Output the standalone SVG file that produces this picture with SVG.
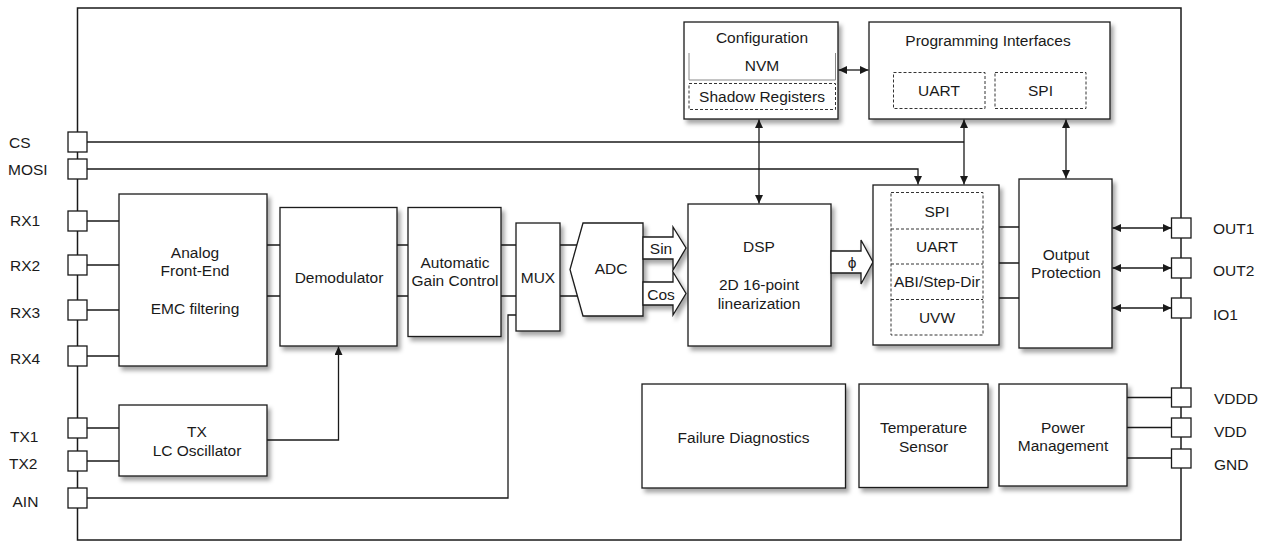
<svg xmlns="http://www.w3.org/2000/svg" width="1266" height="543" viewBox="0 0 1266 543">
<style>
text{font-family:"Liberation Sans",Arial,sans-serif;font-size:15.5px;fill:#1a1a1a;dominant-baseline:central}
.c{text-anchor:middle}
.box{fill:#fff;stroke:#1a1a1a;stroke-width:1.3;filter:url(#sh)}
.pin{fill:#fff;stroke:#1a1a1a;stroke-width:1.3}
.dash{fill:none;stroke:#333;stroke-width:1;stroke-dasharray:3 2}
.ln{fill:none;stroke:#1a1a1a;stroke-width:1.3}
.arr{marker-end:url(#ah)}
.dbl{marker-start:url(#ah);marker-end:url(#ah)}
</style>
<defs>
<filter id="sh" x="-10%" y="-10%" width="130%" height="130%">
<feDropShadow dx="3" dy="4" stdDeviation="2.2" flood-color="#000" flood-opacity="0.35"/>
</filter>
<marker id="ah" markerUnits="userSpaceOnUse" markerWidth="9" markerHeight="8" refX="8.5" refY="4" orient="auto-start-reverse">
<path d="M0,0 L8.5,4 L0,8 Z" fill="#1a1a1a"/>
</marker>
</defs>

<g id="chip">
<rect x="77.5" y="8" width="1103.5" height="532" fill="none" stroke="#1a1a1a" stroke-width="1.5"/>
</g>

<g id="connectors">
<path class="ln" d="M87,142 H964"/>
<path class="ln dbl" d="M964,119.5 V184.5"/>
<path class="ln arr" d="M87,169 H918 V184.5"/>
<path class="ln" d="M87,221 H119 M87,265 H119 M87,310 H119 M87,356 H119"/>
<path class="ln" d="M267,245 H280 M267,296 H280 M397,245 H408 M397,296 H408 M501,245 H516 M501,296 H516"/>
<path class="ln" d="M560,245 H577 M560,296 H577.5"/>
<path class="ln" d="M87,428 H119 M87,461 H119"/>
<path class="ln arr" d="M267,440 H338.5 V346.5"/>
<path class="ln" d="M87,498 H508 V315 H516"/>
<path class="ln dbl" d="M759,119.5 V203.5"/>
<path class="ln dbl" d="M838.5,70 H868.5"/>
<path class="ln dbl" d="M1066,119.5 V178.5"/>
<path class="ln" d="M999,227 H1019 M999,263 H1019 M999,298 H1019"/>
<path class="ln dbl" d="M1112.5,228 H1171.5"/>
<path class="ln dbl" d="M1112.5,268 H1171.5"/>
<path class="ln dbl" d="M1112.5,308 H1171.5"/>
<path class="ln" d="M1127,397.5 H1172 M1127,427.5 H1172 M1127,458 H1172"/>
</g>

<g id="pins-left">
<rect class="pin" x="68" y="132" width="19" height="20"/><text x="9" y="142">CS</text>
<rect class="pin" x="68" y="159" width="19" height="20"/><text x="8" y="169.5">MOSI</text>
<rect class="pin" x="68" y="211" width="19" height="20"/><text x="10" y="220.5">RX1</text>
<rect class="pin" x="68" y="255" width="19" height="20"/><text x="10" y="265">RX2</text>
<rect class="pin" x="68" y="300" width="19" height="20"/><text x="10" y="312">RX3</text>
<rect class="pin" x="68" y="346" width="19" height="20"/><text x="10" y="358">RX4</text>
<rect class="pin" x="68" y="418" width="19" height="20"/><text x="10" y="436">TX1</text>
<rect class="pin" x="68" y="451" width="19" height="20"/><text x="9" y="463">TX2</text>
<rect class="pin" x="68" y="488" width="19" height="20"/><text x="12.5" y="501">AIN</text>
</g>

<g id="pins-right">
<rect class="pin" x="1171.5" y="218" width="19.5" height="20"/><text x="1213" y="228">OUT1</text>
<rect class="pin" x="1171.5" y="258" width="19.5" height="20"/><text x="1213" y="270">OUT2</text>
<rect class="pin" x="1171.5" y="298" width="19.5" height="20"/><text x="1213" y="314">IO1</text>
<rect class="pin" x="1171.5" y="388" width="19.5" height="19"/><text x="1214" y="398">VDDD</text>
<rect class="pin" x="1171.5" y="418" width="19.5" height="19"/><text x="1214" y="431">VDD</text>
<rect class="pin" x="1171.5" y="449" width="19.5" height="19"/><text x="1214" y="464">GND</text>
</g>

<g id="afe">
<rect class="box" x="119" y="194" width="148" height="172"/>
<text class="c" x="195" y="252">Analog</text>
<text class="c" x="195" y="270">Front-End</text>
<text class="c" x="195" y="308">EMC filtering</text>
</g>

<g id="demodulator">
<rect class="box" x="280" y="207.5" width="117" height="138.5"/>
<text class="c" x="339" y="277">Demodulator</text>
</g>

<g id="agc">
<rect class="box" x="408" y="207.5" width="93" height="129"/>
<text class="c" x="455" y="262">Automatic</text>
<text class="c" x="455" y="280">Gain Control</text>
</g>

<g id="mux">
<rect class="box" x="516" y="223" width="44" height="108"/>
<text class="c" x="538" y="277">MUX</text>
</g>

<g id="adc">
<path class="box" d="M583,223 H643 V316 H583 L570,269.5 Z"/>
<text class="c" x="611" y="268">ADC</text>
</g>

<g id="sin-arrow">
<path class="box" d="M643,237 H673 V227 L686,248 L673,270 V259 H643 Z"/>
<text class="c" x="661" y="248">Sin</text>
</g>

<g id="cos-arrow">
<path class="box" d="M643,282 H673 V272 L686,293.5 L673,315 V305 H643 Z"/>
<text class="c" x="661" y="294">Cos</text>
</g>

<g id="dsp">
<rect class="box" x="688" y="204" width="143" height="142"/>
<text class="c" x="759" y="246">DSP</text>
<text class="c" x="759" y="284">2D 16-point</text>
<text class="c" x="759" y="303">linearization</text>
</g>

<g id="phi-arrow">
<path class="box" d="M831,251 H861 V240 L873,262 L861,284 V273 H831 Z"/>
<text class="c" x="852" y="262">ϕ</text>
</g>

<g id="configuration">
<rect class="box" x="684" y="22" width="154" height="97"/>
<text class="c" x="762" y="37">Configuration</text>
<path d="M689,53 V80 H835.5 V53" fill="none" stroke="#888" stroke-width="1"/>
<text class="c" x="762" y="65">NVM</text>
<rect class="dash" x="689" y="83.5" width="146.5" height="26"/>
<text class="c" x="762" y="96.5">Shadow Registers</text>
</g>

<g id="programming">
<rect class="box" x="869" y="22" width="241" height="97"/>
<text class="c" x="988" y="40">Programming Interfaces</text>
<rect class="dash" x="893.5" y="72.5" width="91.5" height="36"/>
<text class="c" x="939" y="90">UART</text>
<rect class="dash" x="995" y="72.5" width="91" height="36"/>
<text class="c" x="1040.5" y="90">SPI</text>
</g>

<g id="interfaces">
<rect class="box" x="873" y="185" width="126" height="160"/>
<rect class="dash" x="891" y="192.5" width="92" height="142.5"/>
<path class="dash" d="M891,229 H983 M891,264 H983 M891,299.5 H983"/>
<text class="c" x="937" y="211">SPI</text>
<text class="c" x="937" y="246">UART</text>
<text class="c" x="937" y="281">ABI/Step-Dir</text>
<text class="c" x="937" y="317">UVW</text>
</g>

<g id="output-protection">
<rect class="box" x="1019" y="179" width="93" height="169"/>
<text class="c" x="1066" y="254">Output</text>
<text class="c" x="1066" y="272">Protection</text>
</g>

<g id="tx-oscillator">
<rect class="box" x="119" y="405" width="148" height="71"/>
<text class="c" x="197" y="431">TX</text>
<text class="c" x="197" y="450">LC Oscillator</text>
</g>

<g id="failure-diagnostics">
<rect class="box" x="642" y="384" width="203.5" height="104"/>
<text class="c" x="743.5" y="437">Failure Diagnostics</text>
</g>

<g id="temperature-sensor">
<rect class="box" x="859" y="384" width="129" height="103.5"/>
<text class="c" x="923.5" y="427">Temperature</text>
<text class="c" x="923.5" y="446">Sensor</text>
</g>

<g id="power-management">
<rect class="box" x="999" y="384" width="128" height="102"/>
<text class="c" x="1063" y="427">Power</text>
<text class="c" x="1063" y="445">Management</text>
</g>
</svg>
